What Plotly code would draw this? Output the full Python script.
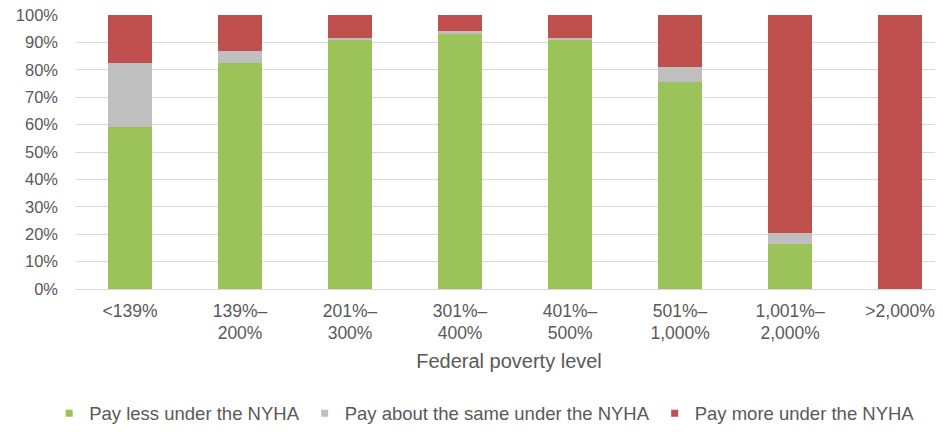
import plotly.graph_objects as go

categories = ["<139%", "139%–<br>200%", "201%–<br>300%", "301%–<br>400%", "401%–<br>500%",
              "501%–<br>1,000%", "1,001%–<br>2,000%", ">2,000%"]
pay_less = [59.0, 82.5, 90.8, 93.2, 91.0, 75.5, 16.5, 0.0]
pay_same = [23.5, 4.5, 0.9, 0.9, 0.7, 5.5, 4.0, 0.0]
pay_more = [17.5, 13.0, 8.3, 5.9, 8.3, 19.0, 79.5, 100.0]
y_ticks = [0, 10, 20, 30, 40, 50, 60, 70, 80, 90, 100]

names = ["Pay less under the NYHA", "Pay about the same under the NYHA", "Pay more under the NYHA"]
colors = ["#9BC35A", "#BFBFBF", "#C0504D"]

fig = go.Figure()
xs = list(range(len(categories)))
for name, vals, col in zip(names, [pay_less, pay_same, pay_more], colors):
    fig.add_trace(go.Bar(x=xs, y=vals, name=name, showlegend=False,
                         marker=dict(color=col, line=dict(width=0)), width=0.4))
# legend entries with small square swatches
for name, col in zip(names, colors):
    fig.add_trace(go.Scatter(x=[None], y=[None], mode="markers", name=name,
                             marker=dict(symbol="square", size=7, color=col)))

fig.update_layout(
    barmode="stack",
    width=943, height=432,
    margin=dict(l=67, r=8, t=7, b=141),
    paper_bgcolor="white", plot_bgcolor="white",
    font=dict(family="Liberation Sans, Arial, sans-serif", size=17, color="#595959"),
    xaxis=dict(
        tickmode="array", tickvals=xs, ticktext=categories,
        range=[-0.5, 7.39], showgrid=False, zeroline=False, showline=False,
        ticks="", tickfont=dict(size=17.5), ticklabelstandoff=9, automargin=False,
        title=dict(text="Federal poverty level", font=dict(size=20), standoff=11),
    ),
    yaxis=dict(
        range=[0, 100], tickvals=y_ticks, ticktext=[f"{v}%" for v in y_ticks],
        showgrid=True, gridcolor="#D9D9D9", gridwidth=1, zeroline=True,
        zerolinecolor="#D9D9D9", zerolinewidth=1, showline=False, ticks="",
        tickfont=dict(size=16.5), ticklabelstandoff=16, ticklabeloverflow="allow",
        automargin=False,
    ),
    legend=dict(orientation="h", x=0.472, xanchor="center", y=-0.455, yanchor="middle",
                font=dict(size=18.5, color="#595959"), itemwidth=30, traceorder="normal"),
)

fig.write_html("out.html")
